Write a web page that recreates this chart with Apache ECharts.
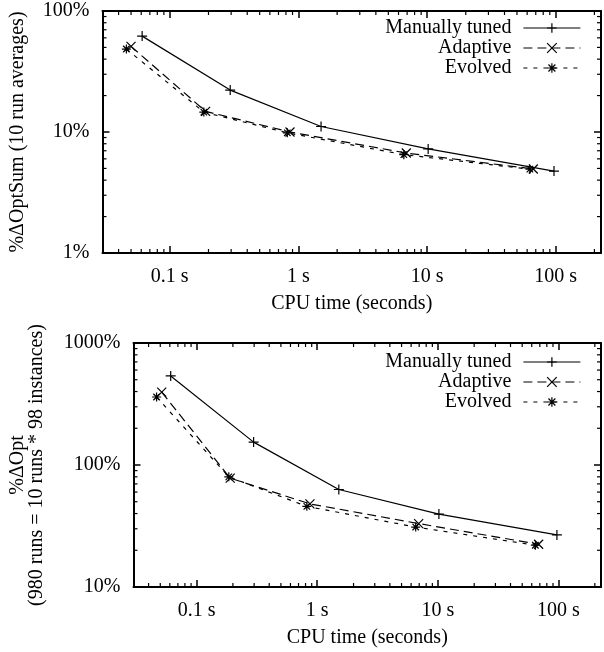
<!DOCTYPE html>
<html>
<head>
<meta charset="utf-8">
<script src="https://cdn.jsdelivr.net/npm/echarts@6/dist/echarts.min.js"></script>
<style>html,body{margin:0;padding:0;background:#fff;}#c{width:604px;height:652px;}</style>
</head>
<body>
<div id="c"></div>
<script>
// ---- data (CPU time in seconds, % deviation) ----
const seriesNames = ['Manually tuned', 'Adaptive', 'Evolved'];

// top chart: %ΔOptSum (10 run averages)
const topManualX = [0.061, 0.295, 1.5, 10.2, 97];
const topManualY = [62, 22.2, 11.1, 7.25, 4.75];
const topAdaptX  = [0.050, 0.19, 0.86, 6.9, 67];
const topAdaptY  = [51, 14.8, 10.0, 6.7, 4.95];
const topEvolvX  = [0.046, 0.184, 0.82, 6.6, 63];
const topEvolvY  = [48.5, 14.6, 9.85, 6.5, 4.93];

// bottom chart: %ΔOpt (980 runs)
const botManualX = [0.061, 0.297, 1.51, 10.2, 97];
const botManualY = [537, 154, 63, 39.6, 26.7];
const botAdaptX  = [0.0514, 0.19, 0.87, 6.93, 68.4];
const botAdaptY  = [396, 78, 48, 33.1, 22.4];
const botEvolvX  = [0.0466, 0.185, 0.82, 6.55, 64.3];
const botEvolvY  = [361, 80, 45.8, 31, 22];

// axis ranges and minor tick values
const xRange = [0.03, 225];
const topYRange = [1, 100];
const botYRange = [10, 1000];
const minorXTicks = [0.04,0.05,0.06,0.07,0.08,0.09,0.2,0.3,0.4,0.5,0.6,0.7,0.8,0.9,2,3,4,5,6,7,8,9,20,30,40,50,60,70,80,90,200];
const minorYTicksTop = [2,3,4,5,6,7,8,9,20,30,40,50,60,70,80,90];
const minorYTicksBot = [20,30,40,50,60,70,80,90,200,300,400,500,600,700,800,900];

const xName = 'CPU time (seconds)';
const topYName = '%ΔOptSum (10 run averages)';
const botYName = '%ΔOpt\n(980 runs = 10 runs * 98 instances)';

// ---- styling ----
const FONT = 'Liberation Serif';
const FS = 20;
const plusPath = 'path://M0,5L10,5M5,0L5,10';
const crossPath = 'path://M0,0L10,10M10,0L0,10';
const starPath = 'path://M0,5L10,5M5,0L5,10M1.4,1.4L8.6,8.6M8.6,1.4L1.4,8.6';

function zip(a, b) { return a.map((v, i) => [v, b[i]]); }
function isPow10(v) { const l = Math.log10(v); return Math.abs(l - Math.round(l)) < 1e-6; }
function xFmt(v) { return isPow10(v) ? (Number(Number(v).toPrecision(6)) + ' s') : ''; }
function yFmt(v) { return isPow10(v) ? (Math.round(v) + '%') : ''; }

function ts() { return { fontFamily: FONT, fontSize: FS, color: '#000' }; }
function tick() { return { show: true, inside: true, length: 7, lineStyle: { color: '#000', width: 1.5 } }; }
function border() { return { show: true, lineStyle: { color: '#000', width: 2 } }; }

function axisX(grid, mirror) {
  const a = {
    gridIndex: grid, type: 'log', min: xRange[0], max: xRange[1], position: mirror ? 'top' : 'bottom',
    axisLine: border(), splitLine: { show: false }, axisTick: tick()
  };
  if (mirror) {
    a.axisLabel = { show: false };
  } else {
    a.axisLabel = Object.assign({ show: true, formatter: xFmt, margin: 14, interval: 0 }, ts());
    a.name = xName; a.nameLocation = 'middle'; a.nameGap = 41; a.nameTextStyle = ts();
  }
  return a;
}
function axisY(grid, range, mirror, name, gap) {
  const a = {
    gridIndex: grid, type: 'log', min: range[0], max: range[1], position: mirror ? 'right' : 'left',
    axisLine: border(), splitLine: { show: false }, axisTick: tick()
  };
  if (mirror) {
    a.axisLabel = { show: false };
  } else {
    a.axisLabel = Object.assign({ show: true, formatter: yFmt, margin: 13, interval: 0 }, ts());
    a.name = name; a.nameLocation = 'middle'; a.nameGap = gap;
    a.nameTextStyle = Object.assign({ lineHeight: 19 }, ts());
  }
  return a;
}

function lineSeries(name, xi, yi, xs, ys, symbol, dash, size) {
  return {
    type: 'line', name: name, xAxisIndex: xi, yAxisIndex: yi,
    data: zip(xs, ys), symbol: symbol, symbolSize: size, showSymbol: true,
    lineStyle: { color: '#000', width: 1.2, type: dash },
    itemStyle: { color: '#000', borderColor: '#000', borderWidth: 1.2 }
  };
}

function legend(top) {
  return {
    data: seriesNames.slice(), orient: 'vertical', align: 'right', right: 18, top: top,
    itemWidth: 57, itemHeight: 12, itemGap: 0, selectedMode: false,
    lineStyle: { width: 1.2 }, itemStyle: { borderWidth: 1.2 },
    textStyle: Object.assign({ lineHeight: 20, padding: [0, 7, 0, 0] }, ts())
  };
}

let chart;
try {
  chart = echarts.init(document.getElementById('c'));
  chart.setOption({
    animation: false,
    grid: [
      { left: 99.5, top: 11, width: 503, height: 242 },
      { left: 131, top: 343, width: 471.5, height: 244 }
    ],
    xAxis: [axisX(0, false), axisX(0, true), axisX(1, false), axisX(1, true)],
    yAxis: [axisY(0, topYRange, false, topYName, 75), axisY(0, topYRange, true),
            axisY(1, botYRange, false, botYName, 87), axisY(1, botYRange, true)],
    legend: [legend(13), legend(347)],
    series: [
      lineSeries(seriesNames[0], 0, 0, topManualX, topManualY, plusPath, 'solid', 10),
      lineSeries(seriesNames[1], 0, 0, topAdaptX, topAdaptY, crossPath, [9, 5], 9),
      lineSeries(seriesNames[2], 0, 0, topEvolvX, topEvolvY, starPath, [4, 6], 9),
      lineSeries(seriesNames[0], 2, 2, botManualX, botManualY, plusPath, 'solid', 10),
      lineSeries(seriesNames[1], 2, 2, botAdaptX, botAdaptY, crossPath, [9, 5], 9),
      lineSeries(seriesNames[2], 2, 2, botEvolvX, botEvolvY, starPath, [4, 6], 9)
    ]
  });
} catch (e) { console.error(e); }

// minor (log 2..9) ticks on all four sides, positioned through the axes' scales
function minorTickElements(xi, yi, yRange, xTicks, yTicks) {
  const els = [];
  const f = { xAxisIndex: xi, yAxisIndex: yi };
  const bl = chart.convertToPixel(f, [xRange[0], yRange[0]]);
  const tr = chart.convertToPixel(f, [xRange[1], yRange[1]]);
  const L = 4;
  xTicks.forEach(v => {
    const x = chart.convertToPixel(f, [v, yRange[0]])[0];
    els.push({ type: 'line', silent: true, shape: { x1: x, y1: bl[1], x2: x, y2: bl[1] - L }, style: { stroke: '#000', lineWidth: 1.2 } });
    els.push({ type: 'line', silent: true, shape: { x1: x, y1: tr[1], x2: x, y2: tr[1] + L }, style: { stroke: '#000', lineWidth: 1.2 } });
  });
  yTicks.forEach(v => {
    const y = chart.convertToPixel(f, [xRange[0], v])[1];
    els.push({ type: 'line', silent: true, shape: { x1: bl[0], y1: y, x2: bl[0] + L, y2: y }, style: { stroke: '#000', lineWidth: 1.2 } });
    els.push({ type: 'line', silent: true, shape: { x1: tr[0], y1: y, x2: tr[0] - L, y2: y }, style: { stroke: '#000', lineWidth: 1.2 } });
  });
  return els;
}
try {
  chart.setOption({
    graphic: minorTickElements(0, 0, topYRange, minorXTicks, minorYTicksTop)
      .concat(minorTickElements(2, 2, botYRange, minorXTicks, minorYTicksBot))
  });
} catch (e) { console.error(e); }
</script>
</body>
</html>
